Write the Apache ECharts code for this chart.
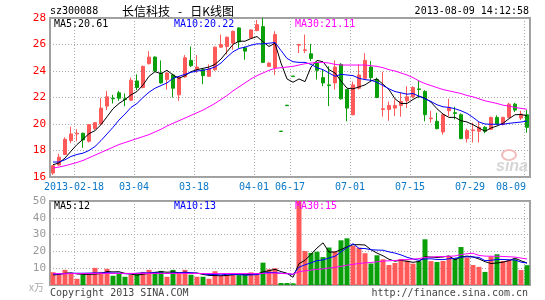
<!DOCTYPE html>
<html>
<head>
<meta charset="utf-8">
<script src="https://cdn.jsdelivr.net/npm/echarts@6/dist/echarts.min.js"></script>
<style>
  html, body { margin: 0; padding: 0; background: #fff; }
  #main { width: 545px; height: 300px; }
</style>
</head>
<body>
<div id="main"></div>
<script>
// trading days shown on the chart (stock was halted between April and June)
var dates = ['2013-02-05','2013-02-06','2013-02-07','2013-02-08','2013-02-18','2013-02-19','2013-02-20','2013-02-21','2013-02-22','2013-02-25',
  '2013-02-26','2013-02-27','2013-02-28','2013-03-01','2013-03-04','2013-03-05','2013-03-06','2013-03-07','2013-03-08','2013-03-11',
  '2013-03-12','2013-03-13','2013-03-14','2013-03-15','2013-03-18','2013-03-19','2013-03-20','2013-03-21','2013-03-22','2013-03-25',
  '2013-03-26','2013-03-27','2013-03-28','2013-03-29','2013-04-01','2013-04-02','2013-04-03','2013-04-08','2013-04-09','2013-04-10',
  '2013-06-17','2013-06-18','2013-06-19','2013-06-20','2013-06-21','2013-06-24','2013-06-25','2013-06-26','2013-06-27','2013-06-28',
  '2013-07-01','2013-07-02','2013-07-03','2013-07-04','2013-07-05','2013-07-08','2013-07-09','2013-07-10','2013-07-11','2013-07-12',
  '2013-07-15','2013-07-16','2013-07-17','2013-07-18','2013-07-19','2013-07-22','2013-07-23','2013-07-24','2013-07-25','2013-07-26',
  '2013-07-29','2013-07-30','2013-07-31','2013-08-01','2013-08-02','2013-08-05','2013-08-06','2013-08-07','2013-08-08','2013-08-09'];

// dates that get a label + vertical grid line
var tickDates = ['2013-02-18','2013-03-04','2013-03-18','2013-04-01','2013-06-17','2013-07-01','2013-07-15','2013-07-29','2013-08-09'];

var opens = [16.3,16.9,17.7,18.75,19.25,19.3,18.7,19.65,20.0,21.35,
  21.95,22.35,21.9,21.8,23.25,22.75,24.55,25.05,23.85,23.35,
  23.7,22.2,23.55,24.8,24.1,24.1,23.6,24.1,25.8,25.85,
  26.1,27.25,25.75,26.5,27.05,27.35,24.35,24.25,19.46,21.42,
  23.62,25.95,25.55,25.3,24.6,23.5,22.95,23.1,24.5,22.6,
  20.7,22.7,23.45,24.3,23.35,21.1,21.1,21.2,21.4,21.75,
  22.05,22.65,22.45,20.4,20.2,19.4,21.0,20.85,20.7,18.9,
  19.5,19.45,19.75,19.6,20.5,19.95,20.5,21.5,20.45,20.7];
var closes = [16.85,17.5,18.85,19.25,19.3,18.8,19.95,20.1,21.2,22.05,
  21.9,21.95,21.85,23.3,22.75,24.35,25.05,24.0,23.1,23.85,
  22.7,23.55,25.0,24.4,24.3,23.65,24.15,25.8,26.0,26.55,
  27.0,26.2,25.5,27.1,27.5,24.65,24.6,26.75,19.44,21.38,
  23.58,26.0,25.6,24.95,24.05,23.1,22.9,24.3,21.9,21.2,
  22.95,23.7,24.8,23.5,22.0,21.15,21.4,21.4,21.7,22.05,
  22.75,22.6,20.7,20.45,19.65,20.7,21.25,20.8,18.9,19.5,
  19.55,19.75,19.45,20.5,20.0,20.5,21.5,21.05,20.75,19.75];
var lows = [16.15,16.85,17.65,18.55,18.7,18.2,18.6,19.55,19.95,21.05,
  21.55,21.75,21.35,21.75,22.55,22.7,24.5,23.95,23.05,22.6,
  22.0,21.75,23.5,24.3,23.85,23.0,23.55,24.0,25.75,25.25,
  25.6,25.75,24.85,26.45,27.0,24.6,24.3,23.7,19.44,21.38,
  23.58,25.35,25.35,24.75,23.35,22.85,21.35,22.6,21.85,20.2,
  20.65,22.6,23.4,23.25,21.95,20.55,20.25,20.6,20.55,21.2,
  21.95,21.95,20.2,20.1,19.6,19.2,20.6,20.35,18.85,18.6,
  18.6,18.6,19.3,19.55,19.95,19.9,20.45,20.9,20.3,19.35];
var highs = [16.9,17.75,19.0,19.8,19.6,19.35,20.0,20.15,21.95,22.5,
  22.2,22.5,22.3,23.5,23.75,24.4,25.5,25.1,24.8,23.9,
  23.8,23.6,25.2,25.85,25.2,24.2,24.5,25.85,26.75,26.6,
  27.05,27.3,25.85,27.15,27.85,28.0,24.65,27.0,19.46,21.42,
  23.62,26.05,26.75,26.05,24.75,24.1,24.35,24.8,24.6,22.65,
  23.2,24.5,25.35,24.75,23.5,23.95,21.7,21.85,22.35,22.85,
  22.85,23.25,22.55,21.0,20.85,20.8,21.9,21.3,20.8,19.65,
  20.1,20.15,19.85,20.55,20.65,20.55,21.6,21.6,21.0,21.05];

// moving averages of the price, as drawn on the picture
var ma5 = [16.93,17.06,17.43,17.95,18.45,18.85,19.27,19.5,19.95,20.55,
  21.15,21.55,21.85,22.2,22.45,22.95,23.6,23.95,23.8,24.05,
  23.7,23.45,23.65,23.95,24.1,24.2,24.3,24.5,24.9,25.45,
  26.0,26.25,26.25,26.45,26.6,26.2,25.85,26.1,24.6,23.4,
  23.15,23.4,23.2,24.3,24.8,24.7,24.1,23.85,23.25,22.7,
  22.65,22.8,22.95,23.25,23.4,23.0,22.6,21.9,21.55,21.55,
  21.85,22.1,21.95,21.65,21.15,20.75,20.5,20.5,20.25,20.15,
  19.95,19.7,19.45,19.7,19.85,20.05,20.4,20.7,20.72,20.61];
var ma10 = [17.13,17.13,17.3,17.55,17.7,17.8,18.0,18.3,18.75,19.25,
  19.75,20.3,20.75,21.25,21.55,22.0,22.4,22.7,22.9,23.1,
  23.45,23.6,23.75,23.9,24.0,24.05,24.15,24.3,24.6,25.05,
  25.45,25.7,25.8,25.95,26.05,26.05,26.1,26.15,25.55,24.95,
  24.7,24.65,24.65,24.5,24.25,24.1,23.85,23.6,23.75,23.7,
  23.65,23.45,23.35,23.3,23.15,22.9,22.65,22.45,22.35,22.25,
  22.3,22.1,21.9,21.7,21.45,21.3,21.25,21.15,21.0,20.8,
  20.5,20.15,20.0,19.98,19.98,19.98,20.05,20.1,20.15,20.22];
var ma30 = [16.68,16.75,16.85,16.97,17.1,17.25,17.45,17.65,17.85,18.05,
  18.25,18.45,18.6,18.75,18.9,19.05,19.2,19.4,19.6,19.85,
  20.05,20.25,20.45,20.65,20.85,21.05,21.3,21.55,21.85,22.15,
  22.5,22.8,23.1,23.4,23.65,23.85,24.05,24.2,24.25,24.3,
  24.35,24.45,24.55,24.6,24.65,24.65,24.6,24.5,24.45,24.45,
  24.45,24.45,24.45,24.4,24.35,24.25,24.1,24.0,23.85,23.7,
  23.5,23.25,23.05,22.9,22.75,22.6,22.5,22.4,22.3,22.15,
  22.05,21.9,21.75,21.65,21.55,21.42,21.35,21.25,21.18,21.11];

// volume in 10k lots (x万)
var volumes = [7.6,6.1,9.0,6.6,3.7,6.1,6.1,10.2,7.8,9.6,
  5.5,6.6,4.9,6.1,6.6,7.8,9.0,7.8,8.4,4.9,
  9.0,6.6,9.0,6.1,4.9,4.9,3.7,8.2,5.7,5.9,
  6.9,5.9,5.9,7.5,6.3,13.3,9.4,10.0,1.2,1.2,
  1.0,50,20.2,19.1,19.8,16.6,22.3,20.0,26.6,27.8,
  23.3,22.2,18.9,12.8,17.7,15.3,11.9,13.1,15.5,14.5,
  12.7,14.2,27.2,14.2,13.7,14.3,16.9,15.9,22.6,16.4,
  11.9,10.8,7.8,16.9,18.3,14.3,15.0,15.3,8.9,11.8];
var volMa5 = [6.0,6.3,7.0,7.2,6.6,6.3,6.3,6.5,6.8,8.0,
  7.8,7.9,6.9,6.5,5.9,6.4,6.9,7.5,7.9,7.6,
  7.8,7.3,7.6,7.1,7.1,6.3,5.7,5.6,5.5,5.7,
  6.1,6.5,6.1,6.4,6.5,7.8,8.5,9.3,8.0,7.0,
  4.6,12.7,14.7,18.3,22.0,25.1,19.6,19.6,21.1,22.7,
  24.0,24.0,23.8,21.0,19.0,17.4,15.3,14.2,14.7,14.1,
  13.5,14.0,16.8,16.6,16.4,16.7,17.3,15.0,16.7,17.2,
  16.7,15.5,13.9,12.8,13.1,13.6,14.5,16.0,14.4,13.1];
var volMa10 = [6.5,6.6,6.8,7.0,7.0,7.0,7.1,7.2,7.2,7.3,
  7.1,7.1,6.7,6.7,7.0,7.2,7.2,7.3,7.1,6.8,
  7.2,7.2,7.6,7.3,7.0,6.7,6.2,6.2,6.0,6.4,
  6.2,6.2,5.9,6.0,6.2,7.0,7.5,7.4,7.0,6.8,
  6.2,10.6,12.0,13.2,14.5,14.9,16.1,17.1,19.7,22.3,
  24.6,21.8,21.7,21.0,20.8,20.7,19.7,19.0,17.9,16.5,
  15.5,14.7,15.5,15.6,15.2,15.1,15.6,15.9,16.6,16.8,
  16.7,16.4,14.5,14.7,15.2,15.2,15.0,14.9,13.6,13.1];
var volMa30 = [6.7,6.7,6.7,6.8,6.8,6.8,6.8,6.9,6.9,6.9,
  6.9,6.9,6.9,6.9,6.9,6.9,6.9,6.9,6.9,6.9,
  6.9,6.9,6.9,6.9,6.9,6.8,6.8,6.8,6.8,6.8,
  6.8,6.8,6.8,6.8,6.8,6.9,7.0,7.1,6.9,6.7,
  6.5,7.9,8.4,8.9,9.3,9.6,10.1,10.5,11.1,11.8,
  12.3,12.8,13.2,13.4,13.8,14.2,14.4,14.6,14.9,15.2,
  15.4,15.7,16.4,16.6,16.9,16.9,17.1,17.3,18.1,18.6,
  18.9,17.6,17.2,17.1,17.1,17.0,16.8,16.6,16.0,15.5];

var RED = '#ff5a5a', GREEN = '#0aa00a';
var MONO = '"DejaVu Sans Mono", "Liberation Mono", monospace';

var tickIdx = tickDates.map(function (d) { return dates.indexOf(d); });
var lastIdx = dates.length - 1;
function isTick(i) { return tickIdx.indexOf(i) >= 0; }

var candles = opens.map(function (o, i) { return [o, closes[i], lows[i], highs[i]]; });
var volBars = volumes.map(function (v, i) {
  return { value: v, itemStyle: { color: closes[i] >= opens[i] ? RED : GREEN } };
});

var grid1 = { left: 50, top: 18, width: 480, height: 159 };
var grid2 = { left: 50, top: 201, width: 480, height: 84 };
var dotted = { color: '#aaa', width: 1, type: [1, 2] };

function lineSeries(data, color, xi, yi) {
  return {
    type: 'line', data: data, xAxisIndex: xi, yAxisIndex: yi,
    symbol: 'none', smooth: false, z: 5,
    lineStyle: { color: color, width: 1 }
  };
}

function txt(x, y, s, color, font, align, z) {
  return {
    type: 'text', x: x, y: y, z: z || 10,
    style: { text: s, fill: color, font: font, textAlign: align, textVerticalAlign: 'middle', align: align, verticalAlign: 'middle' }
  };
}

var myChart = echarts.init(document.getElementById('main'), null, { renderer: 'canvas' });

var option = {
  animation: false,
  backgroundColor: '#fff',
  grid: [
    Object.assign({ show: true, borderColor: '#a0a0a0', borderWidth: 2 }, grid1),
    Object.assign({ show: true, borderColor: '#a0a0a0', borderWidth: 2 }, grid2)
  ],
  xAxis: [{
    type: 'category', gridIndex: 0, data: dates, boundaryGap: true,
    axisLine: { show: false }, axisTick: { show: false },
    splitLine: { show: true, interval: function (i) { return isTick(i); }, lineStyle: dotted },
    axisLabel: {
      interval: function (i) { return isTick(i); },
      margin: 5,
      formatter: function (v, i) {
        var t = i === tickIdx[0] ? v : v.slice(5);
        return i === lastIdx ? '{e|' + t + '}' : '{a|' + t + '}';
      },
      rich: {
        a: { color: '#0a78c8', fontFamily: MONO, fontSize: 10, padding: [0, 6, 0, 0] },
        e: { color: '#0a78c8', fontFamily: MONO, fontSize: 10, padding: [0, 32, 0, 0] }
      }
    }
  }, {
    type: 'category', gridIndex: 1, data: dates, boundaryGap: true,
    axisLine: { show: false }, axisTick: { show: false }, axisLabel: { show: false },
    splitLine: { show: true, interval: function (i) { return isTick(i); }, lineStyle: dotted }
  }],
  yAxis: [{
    type: 'value', gridIndex: 0, min: 16, max: 28, interval: 2,
    axisLine: { show: false }, axisTick: { show: false },
    splitLine: { lineStyle: dotted },
    axisLabel: { color: '#ff0000', fontFamily: MONO, fontSize: 11, margin: 4 }
  }, {
    type: 'value', gridIndex: 1, min: 0, max: 50, interval: 10,
    axisLine: { show: false }, axisTick: { show: false },
    splitLine: { lineStyle: dotted },
    axisLabel: {
      color: '#999', fontFamily: MONO, fontSize: 11, margin: 4,
      formatter: function (v) { return v === 0 ? '' : v; }
    }
  }],
  series: [
    {
      type: 'candlestick', xAxisIndex: 0, yAxisIndex: 0, data: candles, barWidth: 4,
      itemStyle: { color: RED, color0: GREEN, borderColor: RED, borderColor0: GREEN, borderWidth: 1 }
    },
    lineSeries(ma5, '#000000', 0, 0),
    lineSeries(ma10, '#0000ff', 0, 0),
    lineSeries(ma30, '#ff00ff', 0, 0),
    { type: 'bar', xAxisIndex: 1, yAxisIndex: 1, data: volBars, barWidth: 5 },
    lineSeries(volMa5, '#000000', 1, 1),
    lineSeries(volMa10, '#0000ff', 1, 1),
    lineSeries(volMa30, '#ff00ff', 1, 1)
  ],
  graphic: [
    txt(50, 11, 'sz300088', '#000', '10px ' + MONO, 'left'),
    txt(122, 11, '长信科技   -   日K线图', '#000', '12px "Noto Sans CJK SC"', 'left'),
    txt(529, 11, '2013-08-09 14:12:58', '#000', '10px ' + MONO, 'right'),
    txt(54, 24.5, 'MA5:' + ma5[lastIdx].toFixed(2), '#000', '10px ' + MONO, 'left', 20),
    txt(174, 24.5, 'MA10:' + ma10[lastIdx].toFixed(2), '#0000ff', '10px ' + MONO, 'left', 20),
    txt(295, 24.5, 'MA30:' + ma30[lastIdx].toFixed(2), '#ff00ff', '10px ' + MONO, 'left', 20),
    txt(54, 206, 'MA5:12', '#000', '10px ' + MONO, 'left', 20),
    txt(174, 206, 'MA10:13', '#0000ff', '10px ' + MONO, 'left', 20),
    txt(295, 206, 'MA30:15', '#ff00ff', '10px ' + MONO, 'left', 20),
    txt(44, 287, 'x万', '#aaa', '10px "Noto Sans CJK SC"', 'right'),
    txt(50, 293, 'Copyright 2013 SINA.COM', '#444', '10px ' + MONO, 'left'),
    txt(528, 293, 'http://finance.sina.com.cn', '#444', '10px ' + MONO, 'right'),
    // faint sina watermark
    { type: 'ellipse', shape: { cx: 509, cy: 155, rx: 7, ry: 5 }, style: { fill: 'none', stroke: '#f3baba', lineWidth: 2 }, z: 1 },
    txt(512, 167, 'sina', '#d6d6d6', 'italic bold 16px "Liberation Sans"', 'center', 1)
  ]
};

myChart.setOption(option);
</script>
</body>
</html>
